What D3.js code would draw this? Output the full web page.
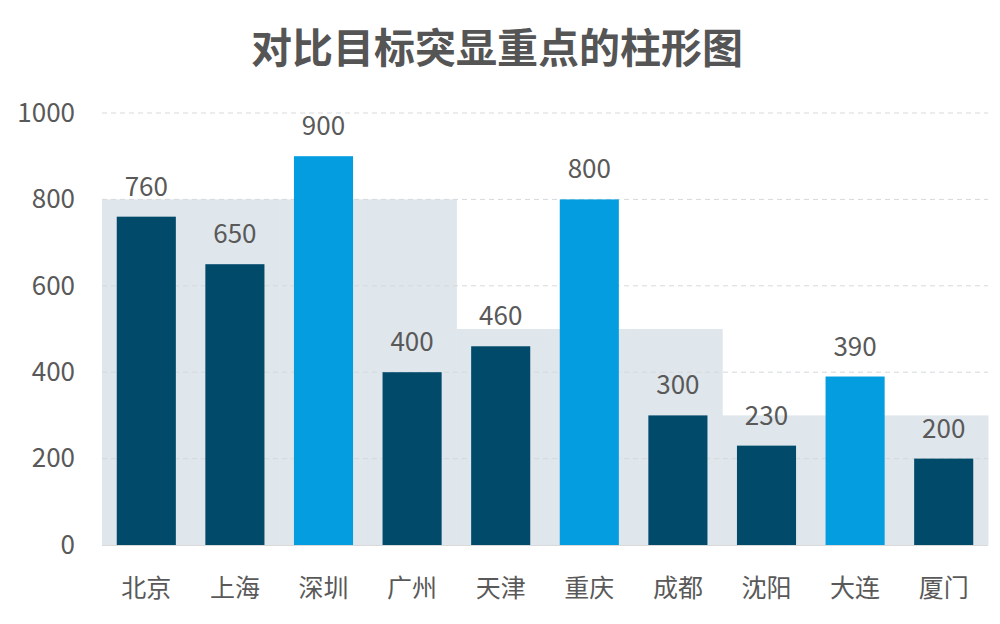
<!DOCTYPE html>
<html>
<head>
<meta charset="utf-8">
<script src="https://cdn.jsdelivr.net/npm/d3@7"></script>
<style>
  html, body { margin: 0; padding: 0; background: #fff; }
  svg { display: block; font-family: "Noto Sans CJK SC", "Noto Sans", sans-serif; }
</style>
</head>
<body>
<svg id="chart"></svg>
<script>
// data
const cities = ["北京", "上海", "深圳", "广州", "天津", "重庆", "成都", "沈阳", "大连", "厦门"];
const values = [760, 650, 900, 400, 460, 800, 300, 230, 390, 200];
const targets = [800, 800, 800, 800, 500, 500, 500, 300, 300, 300];
const yTicks = [0, 200, 400, 600, 800, 1000];
const title = "对比目标突显重点的柱形图";

const w = 1000, h = 624;
const plotLeft = 102, plotRight = 988, plotTop = 113, plotBottom = 545;

let svg = d3.select("#chart")
    .attr("width", w)
    .attr("height", h);

const data = cities.map((c, i) => ({ city: c, value: values[i], target: targets[i] }));

const x = d3.scaleBand()
    .domain(cities)
    .range([plotLeft, plotRight])
    .padding(0);

const y = d3.scaleLinear()
    .domain([0, 1000])
    .range([plotBottom, plotTop]);

const barW = x.bandwidth() * 0.667;

// title
svg.append("text")
    .text(title)
    .attr("x", 497)
    .attr("y", 63)
    .attr("text-anchor", "middle")
    .attr("font-size", "41px")
    .attr("font-weight", "bold")
    .attr("fill", "#555555");

// target background
svg.append("g")
    .selectAll("rect")
    .data(data)
    .enter()
    .append("rect")
    .attr("x", d => x(d.city))
    .attr("y", d => y(d.target))
    .attr("width", x.bandwidth() + 0.5)
    .attr("height", d => y(0) - y(d.target))
    .attr("fill", "#dfe6ec");

// grid lines
svg.append("g")
    .selectAll("line")
    .data(yTicks.filter(t => t > 0))
    .enter()
    .append("line")
    .attr("x1", plotLeft)
    .attr("x2", plotRight)
    .attr("y1", d => y(d))
    .attr("y2", d => y(d))
    .attr("stroke", "#d6d9dc")
    .attr("stroke-width", 1)
    .attr("stroke-dasharray", "5,4");

// baseline
svg.append("line")
    .attr("x1", plotLeft)
    .attr("x2", plotRight)
    .attr("y1", y(0) + 0.5)
    .attr("y2", y(0) + 0.5)
    .attr("stroke", "#d9d9d9");

// bars, highlighted when over target
svg.append("g")
    .selectAll("rect")
    .data(data)
    .enter()
    .append("rect")
    .attr("x", d => x(d.city) + (x.bandwidth() - barW) / 2)
    .attr("y", d => y(d.value))
    .attr("width", barW)
    .attr("height", d => y(0) - y(d.value))
    .attr("fill", d => d.value > d.target ? "#049de0" : "#024a6a");

// value labels
svg.append("g")
    .selectAll("text")
    .data(data)
    .enter()
    .append("text")
    .text(d => d.value)
    .attr("x", d => x(d.city) + x.bandwidth() / 2)
    .attr("y", d => y(d.value) - 21)
    .attr("text-anchor", "middle")
    .attr("font-size", "26px")
    .attr("fill", "#595959");

// y axis
let yAxis = svg.append("g")
    .attr("transform", `translate(${plotLeft},0)`)
    .call(d3.axisLeft(y).tickValues(yTicks).tickFormat(d3.format("d")).tickSize(0).tickPadding(27));
yAxis.select(".domain").remove();
yAxis.selectAll("text")
    .attr("font-size", "26px")
    .attr("font-family", "\"Noto Sans CJK SC\", sans-serif")
    .attr("fill", "#595959");

// x axis
let xAxis = svg.append("g")
    .attr("transform", `translate(0,${plotBottom})`)
    .call(d3.axisBottom(x).tickSize(0));
xAxis.select(".domain").remove();
xAxis.selectAll("text")
    .attr("y", 52)
    .attr("dy", 0)
    .attr("font-size", "25px")
    .attr("font-family", "\"Noto Sans CJK SC\", sans-serif")
    .attr("fill", "#595959");
</script>
</body>
</html>
